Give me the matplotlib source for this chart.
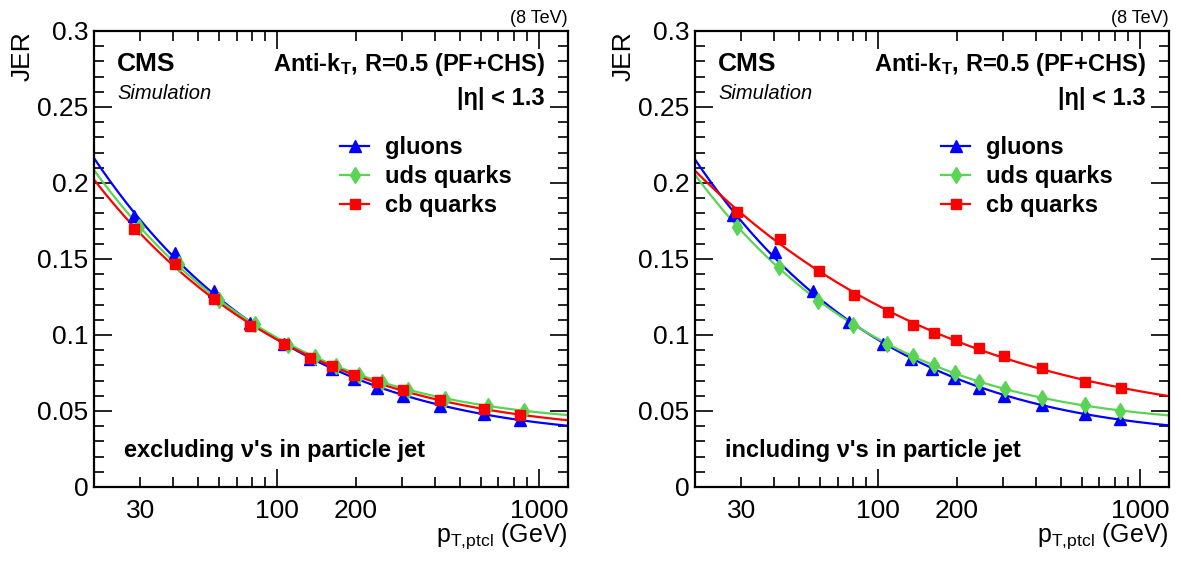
import numpy as np
import matplotlib
matplotlib.use("Agg")
import matplotlib.pyplot as plt
from matplotlib.ticker import FixedLocator, FuncFormatter, MultipleLocator

plt.rcParams['font.family'] = ['Liberation Sans', 'DejaVu Sans']
plt.rcParams['mathtext.fontset'] = 'custom'
plt.rcParams['mathtext.rm'] = 'Liberation Sans'
plt.rcParams['mathtext.it'] = 'Liberation Sans:italic'
plt.rcParams['mathtext.bf'] = 'Liberation Sans:bold'

# ---- data (pT in GeV, JER) ----
# excluding neutrinos
pt_excl = [28.5, 40.8, 57.5, 78.9, 106, 134, 162, 197, 241, 303, 419, 616, 846]
pt_excl_uds = [29.6, 42.3, 59.8, 82.0, 110, 139, 168, 205, 251, 315, 436, 640, 880]
jer_excl_g = [0.178, 0.154, 0.129, 0.108, 0.094, 0.084, 0.0776, 0.0713, 0.0653, 0.0599, 0.0533, 0.0478, 0.0441]
jer_excl_uds = [0.171, 0.147, 0.123, 0.107, 0.0935, 0.0855, 0.0795, 0.0740, 0.0692, 0.0637, 0.0582, 0.0533, 0.0503]
jer_excl_cb = [0.170, 0.1467, 0.124, 0.106, 0.094, 0.0849, 0.0798, 0.0737, 0.0691, 0.0636, 0.0574, 0.0511, 0.0474]

# including neutrinos
pt_incl_g = [28.0, 40.4, 56.5, 77.5, 104.5, 133.7, 160.8, 195, 242, 302, 422, 617, 838]
pt_incl_uds = [29.0, 42.0, 59.0, 80.5, 108.5, 136, 163, 197, 243, 305, 424, 619, 840]
pt_incl_cb = [29.0, 42.3, 59.5, 81.0, 109.2, 136, 163.6, 198.5, 243, 302.7, 422.6, 617, 846]
jer_incl_g = [0.179, 0.1544, 0.129, 0.1088, 0.0939, 0.0841, 0.0778, 0.0715, 0.0653, 0.0599, 0.0538, 0.0478, 0.0445]
jer_incl_uds = [0.171, 0.145, 0.1224, 0.1066, 0.0939, 0.086, 0.0803, 0.0748, 0.0689, 0.0643, 0.0588, 0.0539, 0.0502]
jer_incl_cb = [0.181, 0.163, 0.142, 0.126, 0.115, 0.1066, 0.1015, 0.0967, 0.0912, 0.0864, 0.0785, 0.0693, 0.0653]

labels = ["gluons", "uds quarks", "cb quarks"]
colors = ["#0000ff", "#59d454", "#ff0000"]
markers = ["^", "d", "s"]
msizes = [9, 8, 7.5]

panels = [
    ("excluding \u03bd's in particle jet",
     [pt_excl, pt_excl_uds, pt_excl], [jer_excl_g, jer_excl_uds, jer_excl_cb]),
    ("including \u03bd's in particle jet",
     [pt_incl_g, pt_incl_uds, pt_incl_cb], [jer_incl_g, jer_incl_uds, jer_incl_cb]),
]

xmin, xmax = 20, 1290


def fit_curve(x, y):
    # resolution fit: sigma^2 = N^2/x^2 + S^2 * x^(m-1) + C^2 (all terms >= 0)
    # scan m, the other terms are linear; try subsets to keep coefficients positive
    x = np.asarray(x, float)
    y = np.asarray(y, float)
    best = None
    for m in np.linspace(-1.0, 1.5, 501):
        full = np.vstack([1 / x**2, x**(m - 1), np.ones_like(x)]).T
        for cols in [(0, 1, 2), (1, 2), (0, 1), (1,)]:
            p_sub, *_ = np.linalg.lstsq(full[:, cols], y**2, rcond=None)
            if np.any(p_sub < 0):
                continue
            p = np.zeros(3)
            p[list(cols)] = p_sub
            res = np.sum(((np.sqrt(full @ p) - y) / y)**2)
            if best is None or res < best[0]:
                best = (res, m, p)
    _, m, p = best
    xs = np.geomspace(xmin, xmax, 300)
    ys = np.sqrt(p[0] / xs**2 + p[1] * xs**(m - 1) + p[2])
    return xs, ys


fig = plt.figure(figsize=(11.81, 5.61), dpi=100)
lefts = [94 / 1181, 695 / 1181]

for left, (note, xs_list, ys_list) in zip(lefts, panels):
    ax = fig.add_axes([left, 74 / 561, 474 / 1181, 456 / 561])
    for x, y, lab, c, m, ms in zip(xs_list, ys_list, labels, colors, markers, msizes):
        cx, cy = fit_curve(x, y)
        ax.plot(cx, cy, color=c, lw=1.6, zorder=2)
        ax.plot(x, y, ls='none', marker=m, ms=ms, color=c, mec=c, zorder=3)
        ax.plot([], [], color=c, lw=1.6, marker=m, ms=ms, label=lab)

    ax.set_xscale('log')
    ax.set_xlim(xmin, xmax)
    ax.set_ylim(0, 0.3)
    ax.xaxis.set_major_locator(FixedLocator([100, 1000]))
    ax.xaxis.set_minor_locator(FixedLocator([20, 30, 40, 50, 60, 70, 80, 90,
                                             200, 300, 400, 500, 600, 700, 800, 900]))
    ax.xaxis.set_major_formatter(FuncFormatter(lambda v, p: "%d" % v))
    ax.xaxis.set_minor_formatter(FuncFormatter(lambda v, p: "%d" % v if int(round(v)) in (30, 200) else ""))
    ax.yaxis.set_major_locator(MultipleLocator(0.05))
    ax.yaxis.set_minor_locator(MultipleLocator(0.01))
    ax.yaxis.set_major_formatter(FuncFormatter(lambda v, p: "%g" % round(v, 3)))

    ax.tick_params(which='both', direction='in', top=True, right=True, labelsize=19, width=1.2)
    ax.tick_params(which='major', length=13)
    ax.tick_params(which='minor', length=7)
    ax.tick_params(axis='x', which='both', pad=9)
    ax.tick_params(axis='y', which='both', pad=4)
    for s in ax.spines.values():
        s.set_linewidth(1.6)

    ax.text(-0.151, 1.0, "JER", rotation=90, ha='center', va='top',
            fontsize=19, transform=ax.transAxes)
    ax.text(1.0, -0.121, r"p$_{\mathrm{T{,}ptcl}}$ (GeV)", ha='right', va='baseline',
            fontsize=18, transform=ax.transAxes)
    ax.text(1.0, 1.018, "(8 TeV)", ha='right', va='baseline', fontsize=13,
            transform=ax.transAxes)
    ax.text(0.0485, 0.912, "CMS", fontsize=19, fontweight='bold', ha='left',
            va='baseline', transform=ax.transAxes)
    ax.text(0.0485, 0.851, "Simulation", fontsize=14.5, style='italic', ha='left',
            va='baseline', transform=ax.transAxes)
    ax.text(0.951, 0.912, r"Anti-k$_{\mathbf{T}}$, R=0.5 (PF+CHS)", fontsize=17,
            fontweight='bold', ha='right', va='baseline', transform=ax.transAxes)
    ax.text(0.951, 0.838, "|\u03b7| < 1.3", fontsize=17, fontweight='bold',
            ha='right', va='baseline', transform=ax.transAxes)
    ax.text(0.063, 0.08, note, fontsize=17, fontweight='bold', ha='left',
            va='center', transform=ax.transAxes)

    ax.legend(loc='upper left', bbox_to_anchor=(0.5, 0.79), frameon=False,
              handlelength=1.2, handletextpad=0.7, labelspacing=0.25,
              prop={'size': 17, 'weight': 'bold'}, borderaxespad=0)

fig.savefig("out.png", dpi=100)
